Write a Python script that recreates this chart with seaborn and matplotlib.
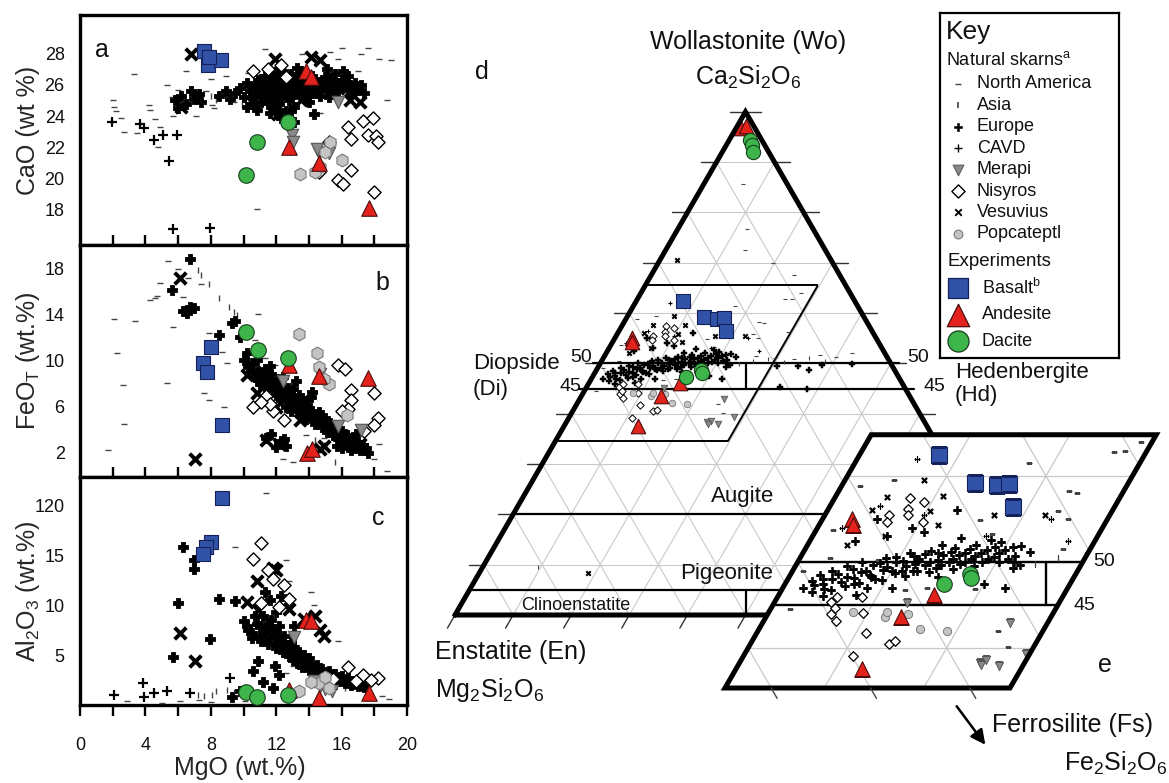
import numpy as np
import pandas as pd
import matplotlib
matplotlib.use("Agg")
import matplotlib.pyplot as plt
import seaborn as sns
from matplotlib.patches import Polygon, FancyArrowPatch
from matplotlib.ticker import MultipleLocator, FixedLocator

sns.set_theme(style="white")
plt.rcParams["font.family"] = ["Liberation Sans", "DejaVu Sans"]
plt.rcParams["mathtext.fontset"] = "custom"
plt.rcParams["mathtext.rm"] = "Liberation Sans"
plt.rcParams["mathtext.it"] = "Liberation Sans:italic"
plt.rcParams["mathtext.bf"] = "Liberation Sans:bold"
plt.rcParams["text.color"] = "#111111"

# ---------------------------------------------------------------- DATA
# Panel a : (MgO, CaO)
NA_A = [(3.3,26.7),(2.0,25.0),(2.1,24.6),(2.2,24.3),(2.5,23.9),(2.7,23.0),(3.5,22.9),(4.2,24.7),(4.3,24.4),
        (4.6,23.8),(4.9,23.3),(4.8,22.0),(5.3,26.0),(6.0,25.7),(5.6,25.2),(6.5,26.9),(7.3,25.3),(7.7,25.6),
        (8.1,24.7),(8.0,26.4),(8.9,26.6),(9.4,24.9),(7.1,24.0),(10.3,26.8),(10.7,25.2),(11.3,28.3),(13.6,28.0),
        (15.3,28.1),(16.0,28.4),(17.2,28.0),(17.6,28.4),(18.3,27.7),(19.0,27.6),(15.8,27.7),(17.0,26.9),
        (14.7,24.2),(18.8,25.0),(12.6,26.1),(10.8,18.0),(5.7,24.0),(8.2,24.5)]
ASIA_A = [(7.5,25.4),(8.0,25.3),(8.3,25.0),(12.5,27.0),(13.8,26.6),(9.9,24.8)]
CAVD_A = [(1.95,23.6),(3.65,23.5),(3.9,23.2),(4.5,22.45),(5.1,22.8),(5.45,21.1),(5.95,22.8),(5.7,16.7),(7.95,16.8)]
EUROPE_A = [(5.8,25.0),(6.2,25.3),(6.5,24.8),(6.8,25.6),(7.0,25.1),(7.4,24.9),(6.0,24.5),(7.3,25.4),
            (8.5,25.3),(8.9,25.6),(9.2,25.1),(9.5,25.5),(9.8,25.8),(10.0,25.2),(10.2,26.1),(10.4,25.6),(10.5,24.8),
            (10.7,25.9),(10.9,26.3),(11.0,25.4),(11.1,24.9),(11.2,26.0),(11.3,26.6),(11.4,25.7),(11.5,25.1),
            (11.6,26.2),(11.7,24.6),(11.8,25.8),(11.9,26.8),(12.0,25.3),(12.1,26.4),(12.2,24.8),(12.3,25.9),
            (12.4,26.9),(12.5,25.5),(12.6,24.3),(12.7,26.2),(12.8,25.0),(12.9,26.7),(13.0,25.7),(13.1,24.6),
            (13.2,26.3),(13.4,25.4),(13.5,26.9),(13.7,25.8),(13.9,26.1),(14.0,24.9),(14.2,26.6),(14.4,25.5),
            (14.6,26.2),(14.8,25.8),(15.0,26.5),(15.2,25.2),(15.4,26.0),(15.6,26.7),(15.8,25.6),(16.0,26.3),
            (16.2,25.9),(16.4,26.6),(16.6,25.4),(16.8,26.1),(17.0,25.7),(17.2,26.0),(17.4,25.5),(12.3,23.9),
            (13.1,23.6),(11.6,24.2),(14.3,24.1),(16.1,26.9),(15.1,27.0),(13.3,27.1),(10.2,24.6),
            (10.6,25.3),(10.8,26.0),(11.0,25.7),(11.1,26.4),(11.3,25.0),(11.4,26.1),(11.5,25.9),(11.7,25.4),
            (11.8,26.5),(11.9,25.0),(12.0,26.0),(12.1,25.6),(12.2,26.2),(12.3,25.2),(12.4,25.7),(12.5,26.4),
            (12.6,25.8),(12.7,25.3),(12.8,26.5),(12.9,25.9),(13.0,26.3),(13.1,25.4),(13.2,25.9),(13.3,26.6),
            (13.4,26.1),(13.6,25.6),(13.7,26.4),(13.8,25.2),(14.0,26.0),(14.1,25.5),(14.3,26.3),(14.5,25.9),
            (14.7,25.3),(14.9,26.1),(15.1,25.7),(15.3,26.4),(15.5,25.4),(15.7,26.1),(15.9,25.9),(16.3,26.2),
            (16.5,25.7),(16.9,25.9),(11.9,24.4),(12.9,24.3),(10.8,24.4)]
VESUVIUS_A = [(6.8,28.0),(11.9,27.7),(14.1,27.8),(14.7,27.6),(17.1,24.9),(6.2,24.6),(12.1,24.1),(10.5,24.9),
              (11.0,26.0),(12.8,25.5),(13.5,25.0),(11.5,25.3),(15.8,25.8),(16.5,25.0),(12.2,26.8)]
MERAPI_A = [(12.95,22.8),(13.0,22.3),(14.6,21.6),(15.2,21.6),(15.8,24.9),(14.5,21.9)]
POPO_A = [(13.45,20.3),(15.3,22.3),(16.0,21.2),(14.7,20.7),(15.0,21.7),(14.4,20.4)]
NISYROS_A = [(10.6,26.9),(11.5,27.0),(12.3,27.3),(12.6,26.5),(16.4,23.3),(16.6,22.5),(17.3,23.7),(17.9,23.9),
             (17.6,22.8),(18.1,22.7),(18.2,22.3),(15.8,19.9),(16.1,19.6),(16.6,20.5),(18.0,19.1),(15.2,22.3),(14.6,20.4)]
BASALT_A = [(7.6,28.2),(7.8,27.3),(8.6,27.6),(7.9,27.8)]
ANDESITE_A = [(13.8,26.9),(14.1,26.5),(12.8,22.0),(14.6,21.0),(17.7,18.1)]
DACITE_A = [(12.7,23.6),(10.8,22.3),(10.15,20.2)]

# Panel b : (MgO, FeOT)
NA_B = [(2.05,13.6),(3.35,13.4),(2.25,10.6),(2.65,7.9),(2.7,4.5),(1.7,2.2),(5.3,8.05),(5.7,12.9),(4.9,16.7),
        (5.4,18.6),(6.0,17.9),(6.6,17.1),(6.3,15.5),(4.3,15.2),(4.6,15.4),(4.7,15.6),(7.9,12.4),(8.7,10.7),
        (9.0,9.8),(7.6,7.2),(7.9,6.6),(8.8,6.0),(12.4,1.5),(13.0,1.2),(18.0,1.5),(18.8,0.4),(10.9,14.0),
        (7.4,16.6),(10.7,11.8),(11.3,10.2),(11.9,9.6),(13.8,3.5),(14.9,3.3),(15.8,2.9),(18.3,2.8),(9.9,12.1)]
ASIA_B = [(7.2,17.8),(7.4,17.4),(7.9,16.6),(8.5,15.4),(9.1,14.6),(9.4,14.2),(9.6,13.9),(14.4,3.1),(15.6,1.2),
          (16.4,3.7),(17.0,3.7)]
EUROPE_B = [(6.7,18.75),(5.65,16.1),(6.3,14.3),(6.55,14.1),(7.0,14.5),(6.7,14.6),(9.3,13.2),(8.5,12.2),
            (9.5,13.4),(9.8,12.0),(10.0,10.0),(10.3,9.4),(10.5,9.8),(10.7,8.6),(10.9,9.1),(11.0,8.0),(11.2,8.8),
            (11.3,7.6),(11.5,8.3),(11.6,9.5),(11.8,7.4),(11.9,8.0),(12.0,7.0),(12.2,7.8),(12.3,6.6),(12.4,8.6),
            (12.5,7.2),(12.6,6.0),(12.8,6.8),(12.9,5.6),(13.0,7.5),(13.1,6.3),(13.3,5.9),(13.4,7.0),(13.5,5.3),
            (13.7,6.5),(13.8,4.9),(14.0,5.8),(14.1,6.8),(14.3,5.2),(14.4,4.5),(14.6,5.5),(14.8,4.2),(15.0,5.0),
            (15.1,3.8),(15.3,4.6),(15.5,3.5),(15.6,4.2),(15.8,3.2),(16.0,3.9),(16.2,2.9),(16.3,3.5),(16.5,2.6),
            (16.7,3.2),(16.8,2.4),(17.0,2.9),(17.1,2.2),(17.3,2.7),(17.5,2.4),(17.6,2.0),(16.9,3.6),(15.7,2.6),
            (12.3,3.0),(12.6,2.6),(14.2,7.3),(13.2,8.2),(11.4,3.3),
            (10.2,10.6),(10.6,9.2),(10.8,10.0),(11.1,8.4),(11.3,9.3),(11.5,7.9),(11.7,8.8),(11.9,7.6),(12.1,8.4),
            (12.2,7.2),(12.4,7.5),(12.6,6.9),(12.7,7.6),(12.9,6.4),(13.0,6.9),(13.2,6.0),(13.3,6.6),(13.5,5.7),
            (13.6,6.2),(13.8,5.5),(13.9,6.1),(14.1,5.0),(14.2,5.6),(14.4,4.8),(14.5,5.3),(14.7,4.6),(14.9,4.9),
            (15.0,4.3),(15.2,4.4),(15.4,3.9),(15.5,4.4),(15.7,3.6),(15.9,3.8),(16.1,3.3),(16.4,3.1),(16.6,2.9),
            (16.9,2.7),(17.2,2.5),(17.4,2.2),(16.0,2.4),(16.6,2.2),(12.5,3.2),(12.0,2.5),(11.7,3.6)]
VESUVIUS_B = [(6.1,17.1),(7.05,1.5),(10.2,8.75),(10.8,7.2),(13.45,4.85),(11.4,3.1),(12.2,2.8),(14.7,2.3),
              (14.9,2.6),(17.1,2.8),(11.5,8.5),(12.0,6.0),(16.5,3.0)]
MERAPI_B = [(12.4,8.2),(15.8,4.3),(14.7,8.8),(17.2,4.0)]
POPO_B = [(13.4,12.3),(14.5,10.6),(14.6,9.4),(15.2,8.0),(14.9,8.4),(16.3,5.3)]
NISYROS_B = [(15.8,9.6),(16.2,9.3),(16.6,7.4),(18.0,7.2),(16.6,6.6),(16.4,5.8),(10.6,6.0),(11.4,6.9),(11.8,5.6),
             (12.5,4.8),(11.6,6.2),(18.2,5.0),(18.0,4.4),(17.4,3.9),(16.0,5.6),(11.1,6.4)]
BASALT_B = [(8.0,11.2),(7.55,9.75),(7.75,9.0),(8.7,4.4)]
ANDESITE_B = [(12.8,9.6),(14.6,8.65),(17.6,8.45),(13.9,2.0),(14.2,2.3)]
DACITE_B = [(10.15,12.5),(10.9,10.9),(12.75,10.2)]

# Panel c : (MgO, Al2O3)
NA_C = [(11.4,21.2),(9.5,15.8),(12.6,14.5),(12.8,12.4),(14.1,11.4),(14.3,10.1),(15.8,6.5),(18.9,0.7),(18.5,1.0),
        (2.9,0.5),(5.0,0.3),(6.1,0.5),(7.3,0.6),(8.0,0.4),(10.1,0.5),(13.0,4.0),(12.6,3.3)]
ASIA_C = [(7.2,1.1),(7.6,1.0),(8.1,1.1),(8.3,1.5),(9.0,1.6),(9.4,1.4),(17.1,3.0),(16.2,1.8)]
CAVD_C = [(2.1,1.1),(3.9,0.9),(4.5,1.3),(5.3,1.5),(6.7,1.3),(3.85,2.3),(9.2,2.8)]
EUROPE_C = [(6.3,15.8),(7.0,14.5),(7.0,13.6),(6.0,10.3),(8.5,10.7),(7.95,6.65),(5.7,4.85),(9.3,0.9),(9.5,10.5),
            (10.0,8.5),(10.3,7.6),(10.5,6.8),(10.8,8.2),(11.0,7.0),(11.2,9.0),(11.4,7.8),(11.5,6.2),(11.7,8.6),
            (11.9,7.2),(12.0,5.8),(12.1,6.6),(12.2,8.0),(12.4,5.4),(12.5,7.0),(12.6,6.1),(12.8,5.0),(12.9,6.4),
            (13.0,4.6),(13.2,5.6),(13.3,4.3),(13.5,5.0),(13.6,3.9),(13.8,4.6),(14.0,3.6),(14.1,4.3),(14.3,3.4),
            (14.5,4.1),(14.6,3.1),(14.8,3.7),(15.0,2.9),(15.2,3.5),(15.4,2.7),(15.6,3.2),(15.8,2.5),(16.0,3.0),
            (16.2,2.3),(16.4,2.8),(16.6,2.1),(16.8,2.5),(17.0,2.0),(17.2,2.3),(17.4,1.9),(11.3,11.4),(11.6,10.6),
            (12.3,11.0),(12.0,9.4),(13.1,8.0),(10.6,3.5),(11.2,2.4),(11.8,1.8),(12.2,3.1),(10.9,4.5),(9.8,1.5),(11.9,4.0),
            (10.2,8.0),(10.5,7.3),(10.7,9.0),(11.0,8.0),(11.1,6.5),(11.3,7.3),(11.5,8.2),(11.6,6.8),(11.8,7.7),
            (12.0,6.2),(12.2,7.0),(12.3,5.8),(12.5,6.4),(12.7,5.5),(12.8,6.0),(13.0,5.3),(13.1,5.9),(13.3,4.8),
            (13.4,5.4),(13.6,4.4),(13.7,5.1),(13.9,4.1),(14.0,4.8),(14.2,3.9),(14.4,3.6),(14.5,3.3),(14.7,3.4),
            (14.9,3.2),(15.1,3.1),(15.3,2.9),(15.5,3.0),(15.7,2.7),(15.9,2.8),(16.1,2.5),(16.3,2.6),(16.5,2.3),
            (16.7,2.2),(16.9,2.3),(17.1,2.1),(17.3,2.0),(14.3,2.9),(15.0,2.4),(15.6,2.2)]
VESUVIUS_C = [(6.1,7.25),(7.05,4.45),(10.2,10.4),(10.9,9.6),(10.8,12.4),(12.0,13.5),(12.8,9.7),(14.4,9.0),
              (14.9,7.0),(14.7,7.6),(11.8,13.7),(13.7,8.7)]
MERAPI_C = [(13.1,6.9),(14.7,2.0),(15.0,1.7),(15.4,1.5),(14.3,2.5)]
POPO_C = [(13.4,1.5),(14.6,2.3),(15.2,1.8),(14.1,2.4),(15.0,2.9)]
NISYROS_C = [(11.05,16.25),(10.6,14.6),(11.5,13.5),(11.8,12.6),(12.5,12.0),(12.8,10.7),(12.2,9.9),(16.4,3.9),
             (17.3,3.1),(18.2,2.8),(16.9,2.5),(15.5,2.7),(17.8,2.6),(11.1,10.3)]
BASALT_C = [(8.7,20.7),(8.0,16.3),(7.7,15.8),(7.5,15.1)]
ANDESITE_C = [(13.8,8.6),(14.1,8.5),(14.6,0.8),(17.7,1.3),(12.8,1.6)]
DACITE_C = [(10.15,1.35),(10.8,0.85),(12.75,1.1)]

# Ternary panels d / e : (Wo %, Fs %), En = 100 - Wo - Fs
NA_T = [(85.6,6.8),(76.7,11.9),(72.5,13.7),(69.9,19.7),(67.6,24.6),(62.9,26.5),(56.3,29.2),(58.0,24.1),(51.7,37.0),
        (52.0,42.3),(40.1,26.1),(59.5,4.9),(58.8,1.9),(61.5,17.5),(62.8,25.4),(64.0,27.6),(58.2,23.2),(55.9,23.3),
        (55.0,24.7),(54.9,15.9),(53.3,17.9),(53.7,1.7),(46.8,12.4),(42.0,24.2),(46.9,19.4),(51.5,26.0),(51.0,29.5),
        (50.8,33.0),(51.2,40.0),(50.5,3.0),(50.2,8.0),(49.0,1.0),(44.5,2.0),(47.0,14.5)]
ASIA_T = [(9.6,9.5),(50.5,26.0),(50.8,28.5),(50.2,31.5),(51.0,35.5),(50.4,38.5),(49.8,24.0)]
EUROPE_T = [(47.0,2.0),(47.8,2.5),(48.5,3.0),(46.5,3.2),(47.5,3.8),(49.0,4.0),(48.0,4.5),(46.8,5.0),(49.5,5.2),
            (48.3,5.8),(47.2,6.2),(50.0,6.5),(48.8,7.0),(47.6,7.4),(49.6,7.8),(48.2,8.3),(50.5,8.6),(49.1,9.0),
            (47.9,9.5),(50.0,9.9),(48.7,10.4),(51.0,10.8),(49.5,11.2),(48.4,11.6),(50.4,12.0),(49.0,12.5),
            (51.3,12.8),(50.0,13.3),(48.8,13.8),(50.8,14.2),(49.6,14.6),(51.6,15.0),(50.3,15.5),(49.2,16.0),
            (51.0,16.3),(50.0,16.8),(52.0,17.0),(50.7,17.5),(49.5,18.0),(51.4,18.4),(50.3,19.0),(52.3,19.3),
            (51.0,19.8),(50.0,20.3),(51.7,20.8),(50.7,21.5),(49.3,22.0),(51.2,22.8),(52.5,4.5),(53.0,7.5),
            (53.5,11.0),(46.2,7.8),(47.0,11.0),(55.0,5.5),(54.0,9.5),(56.0,13.0),(52.8,15.0),
            (49.4,30.7),(49.4,34.4),(48.7,36.5),(49.7,38.3),(49.9,43.3),(45.4,33.2),(45.0,38.0),(47.0,22.4),
            (49.7,22.5),(47.5,20.0),
            (47.3,3.0),(48.0,3.5),(46.9,4.2),(48.6,4.8),(47.7,5.5),(49.2,6.0),(48.1,6.6),(47.4,7.0),(49.0,7.4),
            (48.5,8.0),(49.9,8.3),(48.0,8.8),(49.4,9.3),(50.6,9.6),(48.9,10.0),(50.1,10.6),(49.0,11.0),(50.7,11.4),
            (49.8,11.9),(48.9,12.2),(50.9,12.4),(49.6,13.0),(51.0,13.6),(50.2,14.0),(49.3,14.3),(51.2,14.8),
            (50.0,15.2),(50.8,15.8),(49.8,16.4),(51.5,16.6),(50.4,17.2),(51.0,18.0),(50.0,18.6),(51.8,19.0),
            (50.6,19.5),(51.4,20.2),(50.4,21.0),(51.9,21.5),(50.0,21.8),(46.0,4.5),(47.0,8.5),(52.0,13.5),
            (52.6,18.2),(48.3,15.0)]
CAVD_T = [(56.5,5.0),(55.5,10.0),(53.0,17.5),(55.0,23.0),(52.5,26.0),(62.0,6.0),(54.0,2.5)]
VESUVIUS_T = [(57.6,5.2),(57.7,10.8),(56.1,4.4),(53.0,7.3),(55.5,17.0),(55.5,22.2),(54.3,12.0),(55.9,10.4),
              (70.5,2.9),(8.3,18.8),(59.5,8.0),(52.0,4.0)]
NISYROS_T = [(57.5,7.6),(57.0,9.2),(56.2,8.0),(55.5,8.4),(55.5,6.4),(54.7,6.6),(54.7,10.3),(45.4,5.6),(45.9,6.0),
             (45.9,8.5),(44.0,6.4),(44.6,6.5),(44.1,9.5),(43.1,7.3),(41.8,11.0),(40.5,13.9),(40.8,14.4),(39.1,11.0)]
POPO_T = [(44.2,8.5),(43.6,12.0),(44.2,11.9),(44.0,14.1),(42.2,16.2),(42.0,19.0)]
MERAPI_T = [(45.2,13.4),(42.9,24.9),(38.3,24.2),(38.6,24.7),(37.9,26.3),(38.0,24.5),(39.3,28.3)]
BASALT_T = [(62.4,8.0),(59.2,13.3),(58.9,15.6),(59.1,16.7),(56.4,18.5)]
ANDESITE_T = [(96.8,0.8),(97.1,1.6),(55.0,3.0),(54.3,3.4),(46.2,15.6),(43.6,13.6),(37.6,12.7)]
DACITE_T = [(94.4,3.6),(93.4,4.5),(92.1,5.3),(47.4,16.0),(48.6,18.0),(48.1,18.4)]

GROUPS = ["North America", "Asia", "Europe", "CAVD", "Merapi", "Nisyros", "Vesuvius", "Popcateptl"]
EXPERIMENTS = ["Basalt", "Andesite", "Dacite"]

# ---------------------------------------------------------------- STYLES
STY = {
    "North America": dict(marker="_", color="#444444", edgecolor="#444444"),
    "Asia": dict(marker="|", color="#444444", edgecolor="#444444"),
    "Europe": dict(marker="P", color="black", edgecolor="black"),
    "CAVD": dict(marker="+", color="black", edgecolor="black"),
    "Merapi": dict(marker="v", color="#8a8a8a", edgecolor="#555555"),
    "Nisyros": dict(marker="D", color="white", edgecolor="black"),
    "Vesuvius": dict(marker="x", color="black", edgecolor="black"),
    "Popcateptl": dict(marker="h", color="#c4c4c4", edgecolor="#7a7a7a"),
    "Basalt": dict(marker="s", color="#3152A6", edgecolor="#14215a"),
    "Andesite": dict(marker="^", color="#E3221C", edgecolor="#4a0c0c"),
    "Dacite": dict(marker="o", color="#3DB54B", edgecolor="#173f1c"),
}
# (size, linewidth) per context
SZ_PANEL = {"North America": (22, 1.0), "Asia": (16, 1.0), "Europe": (50, 0.6), "CAVD": (45, 1.6),
            "Merapi": (80, 0.8), "Nisyros": (45, 1.0), "Vesuvius": (70, 2.8), "Popcateptl": (85, 0.8),
            "Basalt": (105, 0.8), "Andesite": (125, 0.8), "Dacite": (125, 0.8)}
SZ_MAIN = {"North America": (10, 0.8), "Asia": (8, 0.8), "Europe": (16, 0.35), "CAVD": (12, 0.8),
           "Merapi": (22, 0.6), "Nisyros": (14, 0.7), "Vesuvius": (10, 1.5), "Popcateptl": (22, 0.6),
           "Basalt": (115, 0.8), "Andesite": (110, 0.8), "Dacite": (105, 0.8)}
SZ_INSET = {"North America": (16, 0.9), "Asia": (14, 0.9), "Europe": (26, 0.45), "CAVD": (16, 0.9),
            "Merapi": (35, 0.7), "Nisyros": (24, 0.9), "Vesuvius": (14, 1.6), "Popcateptl": (35, 0.7),
            "Basalt": (125, 0.8), "Andesite": (125, 0.8), "Dacite": (125, 0.8)}

W, H = 1169, 783
fig = plt.figure(figsize=(W / 100, H / 100), dpi=100)


def fbox(x0, y0, x1, y1):
    return [x0 / W, 1 - y1 / H, (x1 - x0) / W, (y1 - y0) / H]


def ftext(px, py, s, **kw):
    kw.setdefault("va", "center")
    return fig.text(px / W, 1 - py / H, s, **kw)


def tern_xy(wo, fs):
    wo = np.asarray(wo, float) / 100.0
    fs = np.asarray(fs, float) / 100.0
    return fs + wo / 2.0, wo * np.sqrt(3) / 2.0


def scat(ax, pts, grp, sizes, tern=False, clip=None, z=3, marker=None):
    arr = np.array(pts, dtype=float)
    if tern:
        x, y = tern_xy(arr[:, 0], arr[:, 1])
    else:
        x, y = arr[:, 0], arr[:, 1]
    df = pd.DataFrame({"x": x, "y": y})
    st = dict(STY[grp])
    if marker is not None:
        st["marker"] = marker
    s, lw = sizes[grp]
    sns.scatterplot(data=df, x="x", y="y", ax=ax, legend=False, s=s, linewidth=lw, zorder=z, **st)
    coll = ax.collections[-1]
    if clip is not None:
        coll.set_clip_path(clip)
    return coll


# ---------------------------------------------------------------- PANELS a-c
axA = fig.add_axes(fbox(80, 15, 407, 245))
axB = fig.add_axes(fbox(80, 245, 407, 477))
axC = fig.add_axes(fbox(80, 477, 407, 705))

panel_data = {
    axA: dict(NA=NA_A, AS=ASIA_A, CA=CAVD_A, EU=EUROPE_A, VE=VESUVIUS_A, NI=NISYROS_A, PO=POPO_A, ME=MERAPI_A,
              BA=BASALT_A, AN=ANDESITE_A, DA=DACITE_A),
    axB: dict(NA=NA_B, AS=ASIA_B, CA=None, EU=EUROPE_B, VE=VESUVIUS_B, NI=NISYROS_B, PO=POPO_B, ME=MERAPI_B,
              BA=BASALT_B, AN=ANDESITE_B, DA=DACITE_B),
    axC: dict(NA=NA_C, AS=ASIA_C, CA=CAVD_C, EU=EUROPE_C, VE=VESUVIUS_C, NI=NISYROS_C, PO=POPO_C, ME=MERAPI_C,
              BA=BASALT_C, AN=ANDESITE_C, DA=DACITE_C),
}
order = [("NA", "North America"), ("AS", "Asia"), ("CA", "CAVD"), ("EU", "Europe"), ("VE", "Vesuvius"),
         ("NI", "Nisyros"), ("ME", "Merapi"), ("PO", "Popcateptl"), ("BA", "Basalt"), ("AN", "Andesite"),
         ("DA", "Dacite")]
for ax, d in panel_data.items():
    for i, (k, g) in enumerate(order):
        if d[k] is not None:
            scat(ax, d[k], g, SZ_PANEL, z=3 + i * 0.1)

axA.set_ylim(15.7, 30.5)
axA.set_yticks([18, 20, 22, 24, 26, 28])
axB.set_ylim(-0.1, 20.0)
axB.set_yticks([2, 6, 10, 14, 18])
axC.set_ylim(0.1, 22.8)
axC.set_yticks([5, 10, 15, 20])
axC.set_yticklabels(["5", "10", "15", "120"])

for ax in (axA, axB, axC):
    ax.set_xlim(0, 20)
    ax.set_facecolor("white")
    ax.set_xlabel("")
    for sp in ax.spines.values():
        sp.set_linewidth(2.4)
        sp.set_color("black")
    ax.tick_params(axis="y", which="both", length=0, labelsize=13, pad=11, labelcolor="#111111")

for ax in (axA, axB):
    ax.xaxis.set_major_locator(FixedLocator([2, 4, 6, 8, 10, 12, 14, 16, 18]))
    ax.tick_params(axis="x", which="major", direction="inout", length=15, width=1.7,
                   bottom=True, top=False, labelbottom=False, color="black")

axC.xaxis.set_major_locator(MultipleLocator(4))
axC.xaxis.set_minor_locator(MultipleLocator(2))
axC.tick_params(axis="x", which="both", direction="out", length=8, width=1.7, bottom=True, top=False,
                color="black")
axC.tick_params(axis="x", which="major", labelsize=13, pad=15, labelcolor="#111111")
axC.set_xlabel("MgO (wt.%)", fontsize=18)
axC.xaxis.label.set_va("center")
axC.xaxis.set_label_coords(0.49, -(768 - 705) / 228)

axA.set_ylabel("CaO (wt %)", fontsize=18)
axB.set_ylabel("FeO$_\\mathregular{T}$ (wt.%)", fontsize=18)
axC.set_ylabel("Al$_2$O$_3$ (wt.%)", fontsize=18)
for ax in (axA, axB, axC):
    ax.yaxis.label.set_va("center")
    ax.yaxis.set_label_coords(-(80 - 28) / 327, 0.5)

ftext(102, 50, "a", fontsize=18, ha="center")
ftext(382, 283, "b", fontsize=18, ha="center")
ftext(378, 518, "c", fontsize=18, ha="center")

# ---------------------------------------------------------------- TERNARY d
S = 581.0
axT = fig.add_axes(fbox(430, 0, 1169, 783))
axT.set_xlim((430 - 455) / S, (1169 - 455) / S)
axT.set_ylim((615 - 783) / S, 615 / S)
axT.axis("off")
axT.patch.set_alpha(0)

GRID_C = "#c9c9c9"


def tline(ax, p, q, **kw):
    x1, y1 = tern_xy(*p)
    x2, y2 = tern_xy(*q)
    return ax.plot([x1, x2], [y1, y2], solid_capstyle="butt", **kw)[0]


def draw_grid(ax, clip=None, lw=0.8):
    arts = []
    for v in range(10, 100, 10):
        arts.append(tline(ax, (v, 0), (v, 100 - v), color=GRID_C, lw=lw, zorder=1))
        arts.append(tline(ax, (0, v), (100 - v, v), color=GRID_C, lw=lw, zorder=1))
        arts.append(tline(ax, (0, 100 - v), (100 - v, 0), color=GRID_C, lw=lw, zorder=1))
    if clip is not None:
        for a in arts:
            a.set_clip_path(clip)


def draw_fields(ax, lw=1.6, clip=None):
    arts = [tline(ax, (50, 0), (50, 50), color="black", lw=lw, zorder=2),
            tline(ax, (45, 0), (45, 55), color="black", lw=lw, zorder=2),
            tline(ax, (45, 27.5), (50, 25), color="black", lw=lw, zorder=2)]
    if clip is not None:
        for a in arts:
            a.set_clip_path(clip)
    return arts


draw_grid(axT)
draw_fields(axT)
tline(axT, (20, 0), (20, 80), color="black", lw=1.6, zorder=2)
tline(axT, (5, 0), (5, 95), color="black", lw=1.6, zorder=2)
tline(axT, (0, 50), (5, 47.5), color="black", lw=1.6, zorder=2)
# highlighted box (region enlarged in e)
BOX_LO, BOX_HI, BOX_FS = 34.5, 65.5, 29.7
tline(axT, (BOX_HI, 0), (BOX_HI, BOX_FS), color="black", lw=1.4, zorder=2)
tline(axT, (BOX_LO, 0), (BOX_LO, BOX_FS), color="black", lw=1.4, zorder=2)
tline(axT, (BOX_LO, BOX_FS), (BOX_HI, BOX_FS), color="black", lw=1.4, zorder=2)

# ticks
tk = 0.026
for v in range(10, 101, 10):
    x, y = tern_xy(v, 0)
    axT.plot([x - tk, x], [y, y], color="#333333", lw=1.0, zorder=2)
    x, y = tern_xy(v, 100 - v)
    axT.plot([x, x + tk], [y, y], color="#333333", lw=1.0, zorder=2)
for v in range(0, 101, 10):
    x, y = tern_xy(0, v)
    axT.plot([x, x - tk * 0.5], [y, y - tk * 0.866], color="#333333", lw=1.0, zorder=2)
for v in (45, 50):
    x, y = tern_xy(v, 0)
    axT.plot([x - 0.012, x], [y, y], color="black", lw=1.6, zorder=2)
    x, y = tern_xy(v, 100 - v)
    axT.plot([x, x + 0.015], [y, y], color="black", lw=1.6, zorder=2)

# outline
cx, cy = tern_xy([0, 100, 0, 0], [0, 0, 100, 0])
axT.plot(cx, cy, color="black", lw=3.6, zorder=5, solid_joinstyle="miter")

tern_sets = [(NA_T, "North America", "_"), (ASIA_T, "Asia", "|"), (EUROPE_T, "Europe", "P"),
             (CAVD_T, "CAVD", "+"), (VESUVIUS_T, "Vesuvius", "x"), (NISYROS_T, "Nisyros", "D"),
             (POPO_T, "Popcateptl", "o"), (MERAPI_T, "Merapi", "v"), (BASALT_T, "Basalt", "s"),
             (ANDESITE_T, "Andesite", "^"), (DACITE_T, "Dacite", "o")]
for i, (pts, g, m) in enumerate(tern_sets):
    scat(axT, pts, g, SZ_MAIN, tern=True, z=3 + i * 0.1, marker=m)

# ---------------------------------------------------------------- INSET e
SE = 993.0
E_LO, E_HI, E_FS = 35.35, 64.8, 28.7
ex0, ey0 = tern_xy(E_LO, 0)
axE = fig.add_axes(fbox(715, 425, 1165, 698))
axE.set_xlim(float(ex0) - 10 / SE, float(ex0) + 440 / SE)
axE.set_ylim(float(ey0) - 10 / SE, float(ey0) + 263 / SE)
axE.axis("off")
axE.patch.set_alpha(0)
px_, py_ = tern_xy([E_LO, E_LO, E_HI, E_HI], [0, E_FS, E_FS, 0])
para = Polygon(np.column_stack([px_, py_]), closed=True, facecolor="white", edgecolor="none", zorder=0.5)
axE.add_patch(para)
draw_grid(axE, clip=para, lw=0.9)
draw_fields(axE, lw=1.7, clip=para)
for i, (pts, g, m) in enumerate(tern_sets):
    scat(axE, pts, g, SZ_INSET, tern=True, clip=para, z=3 + i * 0.1, marker=m)
axE.add_patch(Polygon(np.column_stack([px_, py_]), closed=True, fill=False, edgecolor="black", lw=3.6,
                      joinstyle="miter", zorder=10))
for en in (60, 50, 40):
    x, y = tern_xy(E_LO, 100 - E_LO - en)
    axE.plot([x, x + 0.006], [y, y - 0.0104], color="#444444", lw=1.0, zorder=10, clip_on=False)

# ---------------------------------------------------------------- TEXT (d / e)
ftext(748, 42, "Wollastonite (Wo)", fontsize=18, ha="center")
ftext(748, 77, "Ca$_2$Si$_2$O$_6$", fontsize=18, ha="center")
ftext(482, 72, "d", fontsize=18, ha="center")
ftext(473, 363, "Diopside", fontsize=16, ha="left")
ftext(473, 389, "(Di)", fontsize=16, ha="left")
ftext(592, 358, "50", fontsize=14, ha="right")
ftext(581, 387, "45", fontsize=14, ha="right")
ftext(907, 357, "50", fontsize=14, ha="left")
ftext(923, 387, "45", fontsize=14, ha="left")
ftext(955, 373, "Hedenbergite", fontsize=16, ha="left")
ftext(955, 395, "(Hd)", fontsize=16, ha="left")
ftext(743, 496, "Augite", fontsize=16, ha="center")
ftext(727, 574, "Pigeonite", fontsize=16, ha="center")
ftext(576, 606, "Clinoenstatite", fontsize=13, ha="center")
ftext(435, 652, "Enstatite (En)", fontsize=18, ha="left")
ftext(435, 690, "Mg$_2$Si$_2$O$_6$", fontsize=18, ha="left")
ftext(1093, 562, "50", fontsize=14, ha="left")
ftext(1073, 605, "45", fontsize=14, ha="left")
ftext(1105, 665, "e", fontsize=18, ha="center")
ftext(992, 725, "Ferrosilite (Fs)", fontsize=18, ha="left")
ftext(1167, 763, "Fe$_2$Si$_2$O$_6$", fontsize=18, ha="right")
fig.add_artist(FancyArrowPatch((955 / W, 1 - 704 / H), (987 / W, 1 - 747 / H), transform=fig.transFigure,
                               arrowstyle="-|>", mutation_scale=22, lw=1.8, color="black"))

# ---------------------------------------------------------------- KEY
kax = fig.add_axes(fbox(940, 13, 1119, 358))
kax.set_xlim(0, 179)
kax.set_ylim(345, 0)
kax.set_xticks([])
kax.set_yticks([])
kax.set_facecolor("white")
for sp in kax.spines.values():
    sp.set_linewidth(1.6)
    sp.set_color("black")
kax.text(6, 19, "Key", fontsize=19, va="center", ha="left")
kax.text(6, 47, "Natural skarns$^\\mathregular{a}$", fontsize=13, va="center", ha="left")
KEY_SZ = {"North America": (25, 1.0), "Asia": (20, 1.2), "Europe": (30, 0.4), "CAVD": (40, 1.0),
          "Merapi": (60, 0.7), "Nisyros": (45, 1.0), "Vesuvius": (22, 1.4), "Popcateptl": (40, 0.8),
          "Basalt": (220, 0.9), "Andesite": (260, 0.9), "Dacite": (230, 0.9)}
KEY_MK = {"Popcateptl": "o"}
for i, g in enumerate(GROUPS):
    yy = 71 + 21.4 * i
    st = dict(STY[g])
    st["marker"] = KEY_MK.get(g, st["marker"])
    s, lw = KEY_SZ[g]
    kax.scatter([18], [yy], s=s, linewidths=lw, c=st["color"], edgecolors=st["edgecolor"], marker=st["marker"])
    kax.text(37, yy, g, fontsize=13, va="center", ha="left")
kax.text(8, 249, "Experiments", fontsize=13.5, va="center", ha="left")
EXP_LBL = {"Basalt": "Basalt$^\\mathregular{b}$", "Andesite": "Andesite", "Dacite": "Dacite"}
for i, g in enumerate(EXPERIMENTS):
    yy = 275 + 26.5 * i
    st = STY[g]
    s, lw = KEY_SZ[g]
    kax.scatter([18], [yy], s=s, linewidths=lw, c=st["color"], edgecolors=st["edgecolor"], marker=st["marker"])
    kax.text(42, yy, EXP_LBL[g], fontsize=13, va="center", ha="left")

fig.savefig("out.png", dpi=100)
